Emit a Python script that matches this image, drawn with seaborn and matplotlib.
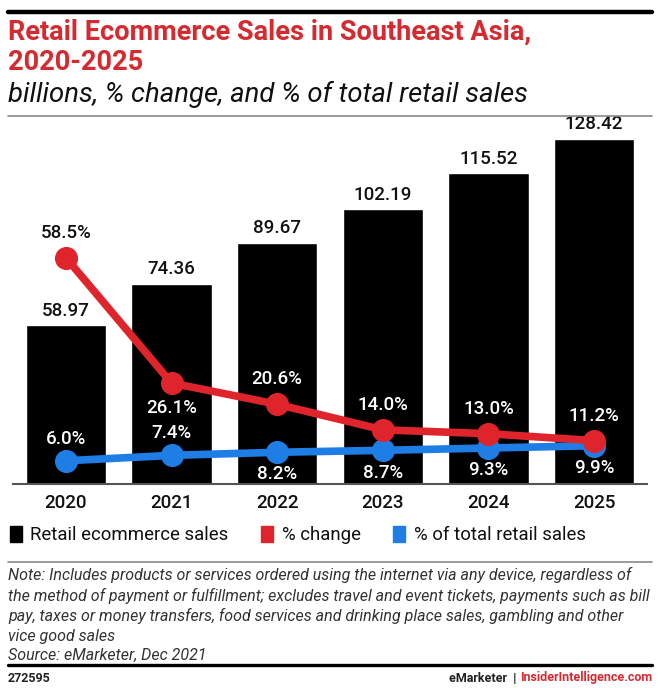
import matplotlib
matplotlib.use('Agg')
import matplotlib.pyplot as plt
import seaborn as sns
from matplotlib.patches import Patch
from matplotlib.lines import Line2D

# data
years = ['2020', '2021', '2022', '2023', '2024', '2025']
sales = [58.97, 74.36, 89.67, 102.19, 115.52, 128.42]
pct_change = [58.5, 26.1, 20.6, 14.0, 13.0, 11.2]
pct_of_total = [6.0, 7.4, 8.2, 8.7, 9.3, 9.9]

# label placement: +1 above the point, -1 below
change_side = [1, -1, 1, 1, 1, 1]
total_side = [1, 1, -1, -1, -1, -1]

RED = '#e0242b'
TITLE_RED = '#d42a30'
BLUE = '#1f7ee6'

sns.set_style('white')
plt.rcParams['font.family'] = ['Roboto', 'DejaVu Sans']

W, H = 660, 688
fig = plt.figure(figsize=(W / 100, H / 100), dpi=100)

def fy(py):
    return 1 - py / H

def fx(px):
    return px / W

# frame lines
fig.add_artist(Line2D([fx(8), fx(652)], [fy(12), fy(12)], color='black', lw=3.2))
fig.add_artist(Line2D([fx(8), fx(652)], [fy(116), fy(116)], color='#8a8a8a', lw=1.2))
fig.add_artist(Line2D([fx(8), fx(652)], [fy(562), fy(562)], color='#8a8a8a', lw=1.2))
fig.add_artist(Line2D([fx(8), fx(652)], [fy(665), fy(665)], color='black', lw=2.4))

# titles
fig.text(fx(8), fy(32), 'Retail Ecommerce Sales in Southeast Asia,', color=TITLE_RED,
         fontsize=19.5, fontweight='bold', va='center', ha='left')
fig.text(fx(8), fy(63), '2020-2025', color=TITLE_RED,
         fontsize=19.5, fontweight='bold', va='center', ha='left')
fig.text(fx(8), fy(94), 'billions, % change, and % of total retail sales', color='#111111',
         fontsize=19.8, fontstyle='italic', va='center', ha='left')

# main axes
ax = fig.add_axes([fx(13), fy(484), fx(634), 368 / H])
sns.barplot(x=years, y=sales, color='black', width=0.76, ax=ax, saturation=1)
ax.set_ylim(0, 136.8)
ax.set_xlim(-0.5, 5.5)
ax.bar_label(ax.containers[0], labels=[f'{v:.2f}' for v in sales], padding=4,
             fontsize=13.5, color='#111111', fontweight='medium')
for s in ['top', 'left', 'right']:
    ax.spines[s].set_visible(False)
ax.spines['bottom'].set_color('#555555')
ax.spines['bottom'].set_linewidth(1.5)
ax.set_yticks([])
ax.set_xlabel('')
ax.set_ylabel('')
ax.tick_params(axis='x', length=0, labelsize=13.5, pad=7, labelcolor='#111111')
for t in ax.get_xticklabels():
    t.set_fontweight('medium')

# percent axis
ax2 = ax.twinx()
sns.pointplot(x=years, y=pct_of_total, color=BLUE, ax=ax2, markersize=12.5, linewidth=5.5)
sns.pointplot(x=years, y=pct_change, color=RED, ax=ax2, markersize=12.5, linewidth=5.5)
ax2.set_ylim(0, 95.1)
ax2.set_xlim(-0.5, 5.5)
ax2.set_yticks([])
ax2.set_ylabel('')
for s in ax2.spines.values():
    s.set_visible(False)

for i, (v, side) in enumerate(zip(pct_change, change_side)):
    col = '#111111' if i == 0 else 'white'
    ax2.annotate(f'{v:.1f}%', (i, v), xytext=(0, 18 * side), textcoords='offset points',
                 ha='center', va='center', fontsize=13.5, color=col, fontweight='medium')
for i, (v, side) in enumerate(zip(pct_of_total, total_side)):
    ax2.annotate(f'{v:.1f}%', (i, v), xytext=(0, 16 * side), textcoords='offset points',
                 ha='center', va='center', fontsize=13.5, color='white', fontweight='medium')

# legend
handles = [Patch(color='black'), Patch(color=RED), Patch(color=BLUE)]
labels = ['Retail ecommerce sales', '% change', '% of total retail sales']
fig.legend(handles, labels, loc='center left', bbox_to_anchor=(fx(10), fy(535)), ncol=3,
           frameon=False, fontsize=13.4, handlelength=0.65, handleheight=1.0,
           handletextpad=0.45, columnspacing=1.75, labelcolor='#111111',
           borderpad=0, borderaxespad=0)

# notes
notes = ('Note: Includes products or services ordered using the internet via any device, regardless of\n'
         'the method of payment or fulfillment; excludes travel and event tickets, payments such as bill\n'
         'pay, taxes or money transfers, food services and drinking place sales, gambling and other\n'
         'vice good sales\n'
         'Source: eMarketer, Dec 2021')
fig.text(fx(8), fy(567), notes, fontsize=11.5, fontstyle='italic', color='#333333',
         va='top', ha='left', linespacing=1.36)

fig.text(fx(8), fy(678), '272595', fontsize=9, fontweight='bold', color='#222222',
         va='center', ha='left')
fig.text(fx(652), fy(678), 'InsiderIntelligence.com', fontsize=9, fontweight='bold',
         color=TITLE_RED, va='center', ha='right')
fig.text(fx(516), fy(678), 'eMarketer  |', fontsize=9, fontweight='bold', color='#222222',
         va='center', ha='right')

fig.savefig('out.png', dpi=100)
